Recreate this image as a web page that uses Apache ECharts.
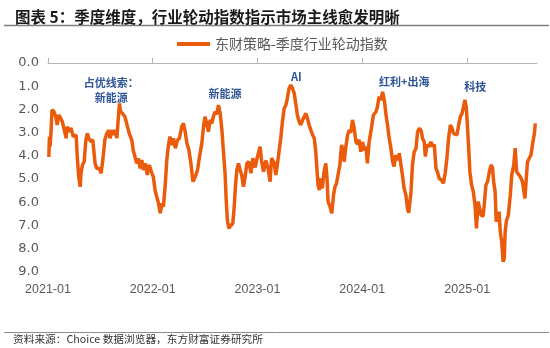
<!DOCTYPE html>
<html><head><meta charset="utf-8">
<script src="https://cdn.jsdelivr.net/npm/echarts@6.0.0/dist/echarts.min.js"></script>
<style>html,body{margin:0;padding:0;background:#fff}#c{width:550px;height:348px}</style>
</head><body><div id="c"></div>
<script>
const titleText = '图表 5：季度维度，行业轮动指数指示市场主线愈发明晰';
const seriesName = '东财策略-季度行业轮动指数';
const sourceText = '资料来源：Choice 数据浏览器，东方财富证券研究所';
const tickLabels = ['2021-01', '2022-01', '2023-01', '2024-01', '2025-01'];
const xRange = ['2021-01-01', '2025-09-01'];
const yRange = [0, 9];

const dates = [
'2021-01-04','2021-01-06','2021-01-08','2021-01-11','2021-01-15','2021-01-22','2021-01-28','2021-02-02','2021-02-07','2021-02-14',
'2021-02-20','2021-02-27','2021-03-05','2021-03-09','2021-03-16','2021-03-22','2021-03-30','2021-04-09','2021-04-13','2021-04-18',
'2021-04-23','2021-04-26','2021-05-01','2021-05-07','2021-05-13','2021-05-18','2021-05-23','2021-05-30','2021-06-06','2021-06-14',
'2021-06-20','2021-06-29','2021-07-05','2021-07-11','2021-07-18','2021-07-25','2021-08-01','2021-08-05','2021-08-12','2021-08-17',
'2021-08-23','2021-08-29','2021-09-02','2021-09-07','2021-09-11','2021-09-18','2021-09-26','2021-10-05','2021-10-11','2021-10-20',
'2021-10-25','2021-10-31','2021-11-06','2021-11-12','2021-11-18','2021-11-24','2021-11-29','2021-12-06','2021-12-13','2021-12-20',
'2021-12-29','2022-01-03','2022-01-09','2022-01-15','2022-01-21','2022-01-27','2022-02-03','2022-02-07','2022-02-13','2022-02-19',
'2022-02-24','2022-03-02','2022-03-08','2022-03-14','2022-03-21','2022-03-28','2022-04-04','2022-04-12','2022-04-18','2022-04-24',
'2022-04-30','2022-05-07','2022-05-14','2022-05-21','2022-05-29','2022-06-06','2022-06-13','2022-06-21','2022-06-27','2022-07-02',
'2022-07-08','2022-07-14','2022-07-20','2022-07-26','2022-07-31','2022-08-06','2022-08-12','2022-08-18','2022-08-24','2022-08-30',
'2022-09-04','2022-09-10','2022-09-14','2022-09-18','2022-09-23','2022-09-30','2022-10-07','2022-10-12','2022-10-16','2022-10-21',
'2022-10-27','2022-11-01','2022-11-07','2022-11-13','2022-11-19','2022-11-25','2022-12-02','2022-12-09','2022-12-16','2022-12-24',
'2023-01-01','2023-01-10','2023-01-15','2023-01-22','2023-01-30','2023-02-07','2023-02-14','2023-02-19','2023-02-28','2023-03-06',
'2023-03-12','2023-03-17','2023-03-23','2023-03-29','2023-04-04','2023-04-10','2023-04-15','2023-04-21','2023-04-27','2023-05-03',
'2023-05-09','2023-05-15','2023-05-20','2023-05-26','2023-06-01','2023-06-07','2023-06-13','2023-06-19','2023-06-24','2023-06-30',
'2023-07-06','2023-07-12','2023-07-18','2023-07-23','2023-07-27','2023-07-31','2023-08-05','2023-08-10','2023-08-15','2023-08-21',
'2023-08-27','2023-08-31','2023-09-04','2023-09-11','2023-09-17','2023-09-23','2023-09-28','2023-10-03','2023-10-09','2023-10-15',
'2023-10-21','2023-10-26','2023-10-30','2023-11-05','2023-11-11','2023-11-17','2023-11-22','2023-11-28','2023-12-04','2023-12-10',
'2023-12-16','2023-12-21','2023-12-27','2024-01-02','2024-01-08','2024-01-14','2024-01-19','2024-01-25','2024-02-02','2024-02-09',
'2024-02-18','2024-02-23','2024-02-29','2024-03-06','2024-03-12','2024-03-18','2024-03-24','2024-03-29','2024-04-04','2024-04-10',
'2024-04-16','2024-04-21','2024-04-27','2024-05-03','2024-05-09','2024-05-15','2024-05-20','2024-05-26','2024-06-01','2024-06-07',
'2024-06-11','2024-06-19','2024-06-24','2024-06-30','2024-07-06','2024-07-12','2024-07-18','2024-07-24','2024-07-29','2024-08-04',
'2024-08-08','2024-08-13','2024-08-21','2024-08-27','2024-09-02','2024-09-08','2024-09-14','2024-09-19','2024-09-25','2024-10-03',
'2024-10-10','2024-10-16','2024-10-22','2024-10-28','2024-11-03','2024-11-09','2024-11-14','2024-11-20','2024-11-26','2024-12-02',
'2024-12-08','2024-12-14','2024-12-20','2024-12-24','2024-12-29','2025-01-02','2025-01-06','2025-01-10','2025-01-16','2025-01-22',
'2025-01-28','2025-02-02','2025-02-08','2025-02-13','2025-02-18','2025-02-25','2025-03-01','2025-03-07','2025-03-13','2025-03-19',
'2025-03-25','2025-03-30','2025-04-03','2025-04-08','2025-04-12','2025-04-17','2025-04-22','2025-04-26','2025-05-01','2025-05-06',
'2025-05-10','2025-05-13','2025-05-17','2025-05-24','2025-05-31','2025-06-05','2025-06-12','2025-06-17','2025-06-22','2025-06-28',
'2025-07-05','2025-07-12','2025-07-16','2025-07-21','2025-07-26','2025-07-30','2025-08-05','2025-08-11','2025-08-17','2025-08-23',
'2025-08-26'
];
const values = [
4.05,3.17,3.6,3.1,2.02,2.1,2.31,2.67,2.24,2.38,
2.53,2.89,3.24,2.74,2.96,2.8,3.17,3.1,4.03,4.9,
5.33,4.74,4.39,4.25,3.32,3.03,3.24,3.39,3.3,4.32,
4.54,4.54,4.75,4.18,3.32,3.03,2.89,3.24,2.89,3.1,
2.89,3.24,2.53,1.74,2.1,2.17,2.31,2.74,3.03,3.32,
3.75,4.03,4.32,4.11,4.54,4.18,4.61,4.32,4.82,4.39,
4.75,4.9,5.47,5.76,6.04,6.47,6.04,6.19,5.33,4.18,
3.6,3.17,3.53,3.24,3.67,3.32,3.24,2.74,2.6,2.96,
3.46,3.75,4.32,5.11,4.9,4.61,4.03,3.46,2.74,2.31,
2.6,2.96,2.45,2.6,2.31,2.1,2.2,1.81,2.17,2.89,
3.75,4.75,5.9,6.76,7.12,7.0,6.9,6.19,5.33,4.61,
4.32,4.6,4.82,5.33,4.9,4.32,4.25,4.75,4.1,4.5,
4.03,3.6,4.2,4.68,4.2,4.54,5.11,4.1,4.3,4.82,
4.3,3.82,3.24,2.53,1.95,1.81,1.52,1.09,0.95,1.09,
1.31,1.81,2.24,2.53,2.67,2.46,2.53,2.17,2.38,2.67,
2.89,3.1,3.24,3.82,4.54,5.25,5.47,4.97,5.4,4.68,
4.32,4.9,5.97,6.2,6.47,5.68,5.33,5.2,5.2,4.39,
3.53,3.75,4.25,3.6,3.1,2.89,3.0,2.45,2.81,3.39,
3.5,3.3,3.82,3.4,3.75,3.6,4.32,3.4,2.81,2.24,
2.1,1.88,1.45,1.6,1.24,1.6,2.24,2.67,3.24,3.67,
4.25,4.46,3.96,4.18,3.89,4.39,4.82,5.4,5.68,6.3,
6.45,5.54,4.39,3.82,3.7,2.96,2.81,2.9,3.24,3.4,
4.03,3.53,3.6,3.39,3.6,3.5,4.54,4.68,4.97,5.04,
5.18,4.75,4.1,3.24,2.67,2.81,3.03,2.96,3.1,2.67,
2.31,2.17,1.81,1.59,1.95,2.81,3.67,4.68,5.25,5.54,
6.12,7.12,5.97,5.9,6.55,6.6,6.12,5.25,5.1,4.68,
4.39,4.5,5.11,5.54,6.83,6.7,6.4,7.27,7.7,8.56,
8.4,7.27,6.83,6.55,5.68,4.82,4.39,3.67,4.68,4.7,
4.9,5.1,5.4,5.83,4.9,4.25,4.1,3.96,3.46,3.03,
2.6
];

const annotations = [
  { text: '占优线索：\n新能源', date: '2021-08-09', value: 1.18 },
  { text: '新能源', date: '2022-09-10', value: 1.34 },
  { text: 'AI', date: '2023-05-16', value: 0.6 },
  { text: '红利+出海', date: '2024-05-26', value: 0.82 },
  { text: '科技', date: '2025-01-29', value: 1.03 }
];

function toTime(s) {
  const p = s.split('-').map(Number);
  return new Date(p[0], p[1] - 1, p[2] || 1).getTime();
}
const tickTimes = tickLabels.map(toTime);
const xMin = toTime(xRange[0]), xMax = toTime(xRange[1]);
const lineColor = '#EA5B0C';
const axisGray = '#b4b4b4';
const cjk = "'Noto Sans CJK SC', sans-serif";
function fmtMonth(v) {
  const d = new Date(v);
  return d.getFullYear() + '-' + String(d.getMonth() + 1).padStart(2, '0');
}

const chart = echarts.init(document.getElementById('c'), null, { renderer: 'canvas' });
chart.setOption({
  animation: false,
  backgroundColor: '#ffffff',
  title: {
    text: titleText, left: 10, top: 4,
    textStyle: { fontSize: 15.5, fontWeight: 'bold', color: '#1a1a1a', fontFamily: cjk }
  },
  legend: {
    data: [seriesName], left: 172, top: 32,
    icon: 'rect', itemWidth: 33, itemHeight: 4,
    textStyle: { fontSize: 14, color: '#595959', fontFamily: cjk }
  },
  grid: { left: 48, right: 13, top: 63, bottom: 76, containLabel: false },
  xAxis: [
    {
      type: 'value', position: 'top', min: xMin, max: xMax,
      axisLine: { show: true, onZero: false, lineStyle: { color: axisGray, width: 1 } },
      axisTick: { show: true, inside: false, customValues: tickTimes, length: 5, lineStyle: { color: axisGray, width: 1 } },
      axisLabel: { show: true, customValues: tickTimes, color: 'rgba(0,0,0,0)', formatter: fmtMonth },
      splitLine: { show: false }
    },
    {
      type: 'value', position: 'bottom', min: xMin, max: xMax,
      axisLine: { show: false, onZero: false }, axisTick: { show: false },
      axisLabel: {
        customValues: tickTimes, margin: 11, color: '#595959', fontSize: 12.5,
        fontFamily: "'Liberation Sans', Arial, sans-serif",
        formatter: fmtMonth
      },
      splitLine: { show: false }
    }
  ],
  yAxis: {
    type: 'value', inverse: true, min: yRange[0], max: yRange[1], interval: 1,
    axisLine: { show: false }, axisTick: { show: false }, splitLine: { show: false },
    axisLabel: { margin: 9, color: '#595959', fontSize: 13, fontFamily: "'DejaVu Sans', sans-serif",
      formatter: function (v) { return v.toFixed(1); } }
  },
  series: [{
    name: seriesName, type: 'line', xAxisIndex: 0, yAxisIndex: 0,
    data: dates.map(function (d, i) { return [toTime(d), values[i]]; }),
    symbol: 'none', smooth: false,
    lineStyle: { color: lineColor, width: 3.5 },
    itemStyle: { color: lineColor },
    markLine: {
      silent: true, symbol: 'none', label: { show: false },
      lineStyle: { color: axisGray, width: 1, type: 'solid' },
      data: [{ yAxis: yRange[0] }]
    },
    markPoint: {
      symbol: 'circle', symbolSize: 0, silent: true,
      itemStyle: { color: 'rgba(0,0,0,0)' },
      label: { show: true, position: 'inside', formatter: '{b}', fontSize: 11, lineHeight: 15,
        fontWeight: 'bold', color: '#2F5597', fontFamily: cjk, align: 'center' },
      data: annotations.map(function (a) {
        return { name: a.text, coord: [toTime(a.date), a.value] };
      })
    }
  }],
  graphic: [
    { type: 'line', shape: { x1: 4, y1: 25.5, x2: 549, y2: 25.5 }, style: { stroke: '#7f7f7f', lineWidth: 1.5 } },
    { type: 'line', shape: { x1: 4, y1: 332.5, x2: 549, y2: 332.5 }, style: { stroke: '#8c8c8c', lineWidth: 1 } },
    { type: 'text', left: 13, top: 334, style: { text: sourceText, fontSize: 10.7, fill: '#333333', fontFamily: cjk } }
  ]
});
</script></body></html>
